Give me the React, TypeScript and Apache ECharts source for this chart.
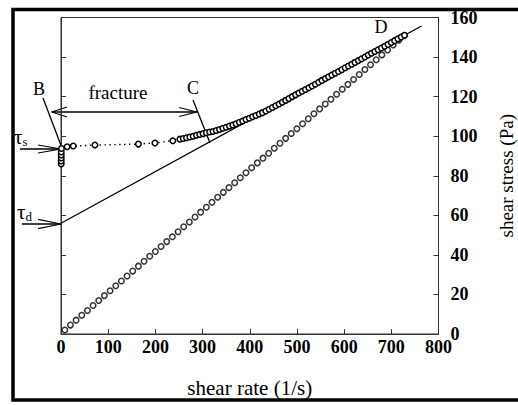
import React, { useEffect, useRef } from "react";
import * as echarts from "echarts";

// Lower branch (open circles along the straight line through origin)
const lowerX = [8, 20, 32, 44, 56, 68, 80, 92, 104, 116, 128, 140, 152, 164, 176, 188, 200, 212, 224, 236, 248, 260, 272, 284, 296, 308, 320, 332, 344, 356, 368, 380, 392, 404, 416, 428, 440, 452, 464, 476, 488, 500, 512, 524, 536, 548, 560, 572, 584, 596, 608, 620, 632, 644, 656, 668, 680, 692, 704, 716, 728];
const lowerY = [2.0, 4.5, 7.0, 9.5, 11.9, 14.4, 16.9, 19.4, 21.9, 24.4, 26.8, 29.3, 31.8, 34.3, 36.8, 39.3, 41.7, 44.2, 46.7, 49.2, 51.7, 54.2, 56.6, 59.1, 61.6, 64.1, 66.6, 69.1, 71.6, 74.0, 76.5, 79.0, 81.5, 84.0, 86.5, 88.9, 91.4, 93.9, 96.4, 98.9, 101.4, 103.8, 106.3, 108.8, 111.3, 113.8, 116.3, 118.7, 121.2, 123.7, 126.2, 128.7, 131.2, 133.7, 136.1, 138.6, 141.1, 143.6, 146.1, 148.5, 151.0];

// Upper branch (fracture curve, B -> C -> D)
const upperX = [0.5, 0.5, 0.5, 0.5, 0.5, 1, 13, 26, 72, 164, 199, 237, 252, 259, 266, 273, 280, 287, 294, 301, 308, 315, 322, 329, 336, 343, 350, 357, 364, 371, 378, 385, 392, 399, 406, 413, 420, 427, 434, 441, 448, 455, 462, 469, 476, 483, 490, 497, 504, 511, 518, 525, 532, 539, 546, 553, 560, 567, 574, 581, 588, 595, 602, 609, 616, 623, 630, 637, 644, 651, 658, 665, 672, 679, 686, 693, 700, 707, 714, 721, 728];
const upperY = [86.0, 87.5, 89.0, 90.5, 92.0, 93.8, 94.7, 95.0, 95.5, 96.0, 96.6, 97.7, 98.5, 98.8, 99.2, 99.6, 100.0, 100.5, 100.9, 101.3, 101.7, 102.1, 102.4, 102.9, 103.4, 104.0, 104.5, 105.1, 105.7, 106.3, 107.0, 107.7, 108.4, 109.1, 109.8, 110.5, 111.2, 111.9, 112.7, 113.6, 114.5, 115.4, 116.3, 117.2, 118.1, 119.0, 120.0, 120.9, 121.8, 122.7, 123.6, 124.5, 125.4, 126.3, 127.3, 128.2, 129.1, 130.0, 130.9, 131.8, 132.7, 133.6, 134.6, 135.5, 136.4, 137.3, 138.2, 139.1, 140.0, 141.0, 141.9, 142.8, 143.7, 144.6, 145.5, 146.4, 147.4, 148.3, 149.2, 150.1, 151.0];

// Fitted straight line from tau_d to D
const fitX = [0, 764];
const fitY = [56, 155.7];

const xTicks = [0, 100, 200, 300, 400, 500, 600, 700, 800];
const yTicks = [0, 20, 40, 60, 80, 100, 120, 140, 160];

const FONT = "'Liberation Serif', 'Times New Roman', serif";

function arrowHead(tipX: number, tipY: number, dir: number, len: number, half: number) {
  return {
    type: "polyline",
    shape: { points: [[tipX - dir * len, tipY - half], [tipX, tipY], [tipX - dir * len, tipY + half]] },
    style: { stroke: "#000", lineWidth: 1.2, fill: null },
    silent: true,
  };
}

function seg(x1: number, y1: number, x2: number, y2: number, w = 1.3) {
  return { type: "line", shape: { x1, y1, x2, y2 }, style: { stroke: "#000", lineWidth: w }, silent: true };
}

function label(text: string, x: number, y: number, size = 19) {
  return {
    type: "text",
    x,
    y,
    style: { text, fill: "#000", font: `${size}px ${FONT}`, align: "center", verticalAlign: "middle" },
    silent: true,
  };
}

export default function App() {
  const ref = useRef<HTMLDivElement>(null);
  useEffect(() => {
    if (!ref.current) return;
    const chart = echarts.init(ref.current, undefined, { renderer: "svg" });
    const axisCommon = {
      type: "value" as const,
      axisLine: { show: true, lineStyle: { color: "#333", width: 1 } },
      axisTick: { show: true, inside: true, length: 5, lineStyle: { color: "#333" } },
      splitLine: { show: false },
    };
    chart.setOption({
      animation: false,
      backgroundColor: "#fff",
      grid: {
        left: 61,
        right: 79.5,
        top: 17.5,
        bottom: 71,
        show: true,
        borderColor: "#333",
        borderWidth: 1,
        containLabel: false,
        outerBoundsMode: "none",
      },
      xAxis: {
        ...axisCommon,
        min: xTicks[0],
        max: xTicks[xTicks.length - 1],
        interval: 100,
        name: "shear rate (1/s)",
        nameLocation: "middle",
        nameGap: 43,
        nameTextStyle: { fontFamily: FONT, fontSize: 21, color: "#000" },
        axisLabel: { fontFamily: FONT, fontSize: 18, fontWeight: "bold", color: "#000", margin: 4 },
      },
      yAxis: [
        {
          ...axisCommon,
          position: "left",
          min: yTicks[0],
          max: yTicks[yTicks.length - 1],
          interval: 20,
          axisLabel: { show: false },
        },
        {
          ...axisCommon,
          position: "right",
          min: yTicks[0],
          max: yTicks[yTicks.length - 1],
          interval: 20,
          name: "shear stress (Pa)",
          nameLocation: "middle",
          nameRotate: 90,
          nameGap: 58,
          nameTextStyle: { fontFamily: FONT, fontSize: 19, color: "#000" },
          axisLabel: { fontFamily: FONT, fontSize: 18, fontWeight: "bold", color: "#000", margin: 12 },
        },
      ],
      series: [
        {
          type: "line",
          data: fitX.map((x, i) => [x, fitY[i]]),
          showSymbol: false,
          symbol: "none",
          lineStyle: { color: "#000", width: 1.3 },
          z: 1,
        },
        {
          type: "scatter",
          data: lowerX.map((x, i) => [x, lowerY[i]]),
          symbol: "circle",
          symbolSize: 5.5,
          itemStyle: { color: "#fff", borderColor: "#000", borderWidth: 1.5 },
          z: 3,
        },
        {
          type: "line",
          data: upperX.map((x, i) => [x, upperY[i]]),
          symbol: "circle",
          symbolSize: 5.5,
          showAllSymbol: true,
          itemStyle: { color: "#fff", borderColor: "#000", borderWidth: 1.5 },
          lineStyle: { color: "#000", width: 1.4, type: [1.4, 3.5] },
          z: 3,
        },
      ],
      graphic: [
        // outer frame
        {
          type: "rect",
          shape: { x: 13, y: 9.5, width: 520, height: 390.5 },
          style: { stroke: "#000", lineWidth: 3.5, fill: null },
          silent: true,
        },
        // fracture double arrow
        seg(52, 112, 197, 112),
        arrowHead(52, 112, -1, 15, 5),
        arrowHead(197, 112, 1, 18, 4.5),
        label("fracture", 118, 92, 19),
        // B
        label("B", 39, 89, 18),
        seg(43, 98, 62, 148),
        // C
        label("C", 193, 88, 18),
        seg(193, 100, 210, 143),
        // D
        label("D", 381, 27, 18),
        // tau_s
        {
          type: "text",
          x: 14,
          y: 137,
          style: {
            text: "{t|τ}{s|s}",
            verticalAlign: "middle",
            rich: {
              t: { font: `21px ${FONT}`, fill: "#000" },
              s: { font: `13px ${FONT}`, fill: "#000", padding: [8, 0, 0, 0] },
            },
          },
          silent: true,
        },
        seg(20, 149, 61, 149),
        arrowHead(61, 149, 1, 23, 4),
        // tau_d
        {
          type: "text",
          x: 17,
          y: 212,
          style: {
            text: "{t|τ}{s|d}",
            verticalAlign: "middle",
            rich: {
              t: { font: `21px ${FONT}`, fill: "#000" },
              s: { font: `13px ${FONT}`, fill: "#000", padding: [8, 0, 0, 0] },
            },
          },
          silent: true,
        },
        seg(22, 224, 61, 224),
        arrowHead(61, 224, 1, 23, 4.7),
      ],
    });
    return () => chart.dispose();
  }, []);
  return <div ref={ref} style={{ position: "absolute", left: 0, top: 0, width: 518, height: 405 }} />;
}
